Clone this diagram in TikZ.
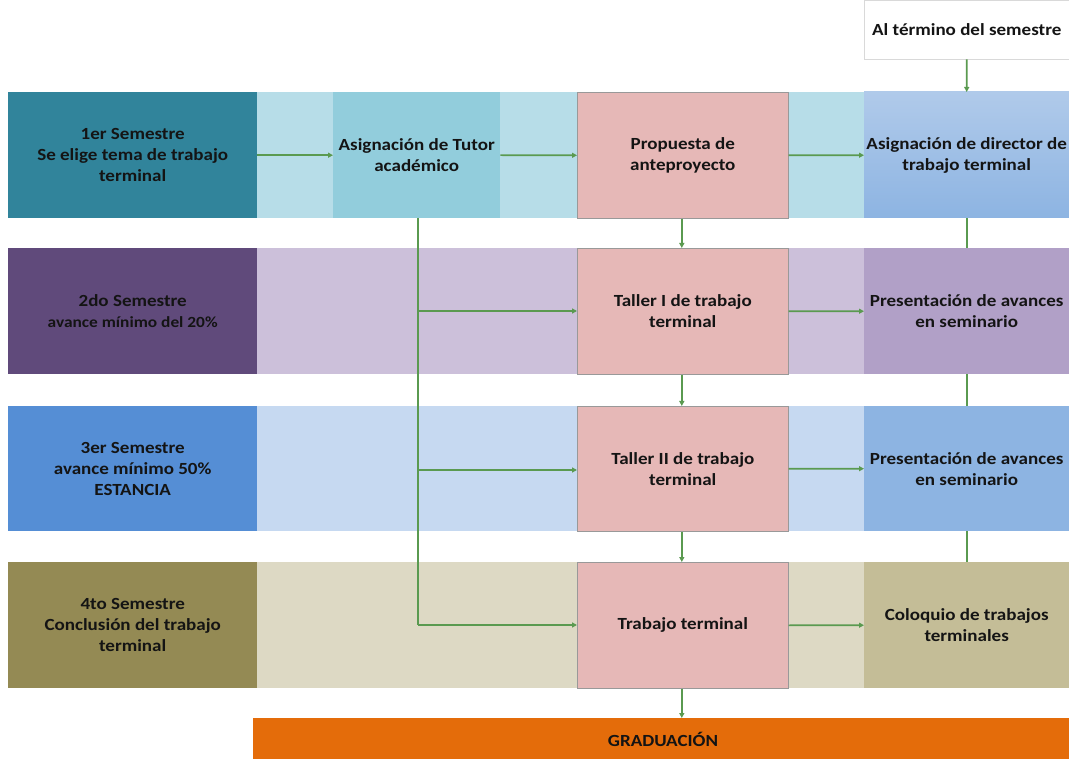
\documentclass[tikz,border=0pt]{standalone}
\usepackage{fontspec}
\setmainfont{Carlito}[FakeStretch=1.12]
\usetikzlibrary{arrows.meta}
\definecolor{cA}{HTML}{31849B}\definecolor{lA}{HTML}{B7DDE8}
\definecolor{cB}{HTML}{604A7B}\definecolor{lB}{HTML}{CCC0DA}
\definecolor{cC}{HTML}{558ED5}\definecolor{lC}{HTML}{C6D9F1}
\definecolor{cD}{HTML}{948A54}\definecolor{lD}{HTML}{DDD9C4}
\definecolor{tut}{HTML}{92CDDC}\definecolor{pink}{HTML}{E6B8B7}
\definecolor{dirT}{HTML}{B0CAEA}\definecolor{dirB}{HTML}{8DB4E2}
\definecolor{presB}{HTML}{B1A0C7}\definecolor{presC}{HTML}{8DB4E2}
\definecolor{colD}{HTML}{C4BD97}\definecolor{grad}{HTML}{E46C0A}
\definecolor{arr}{HTML}{5A9A50}\definecolor{txt}{HTML}{141414}
\tikzset{
  box/.style={anchor=north west,inner sep=0pt,align=center,font=\bfseries\fontsize{17}{21}\selectfont,text=txt},
  pinkbox/.style={box,fill=pink,draw=gray!80,line width=0.6pt},
  lane/.style={anchor=north west,inner sep=0pt},
  con/.style={draw=arr,line width=1.6pt,-{Triangle[length=5pt,width=5pt]}},
  lin/.style={draw=arr,line width=1.6pt}
}
\begin{document}
\begin{tikzpicture}[x=1pt,y=-1pt]
\useasboundingbox (0,0) rectangle (1069,759);
% lanes
\node[lane,fill=lA,minimum width=812pt,minimum height=126pt] (laneA) at (257,92) {};
\node[lane,fill=lB,minimum width=812pt,minimum height=126pt] (laneB) at (257,248) {};
\node[lane,fill=lC,minimum width=812pt,minimum height=125pt] (laneC) at (257,406) {};
\node[lane,fill=lD,minimum width=812pt,minimum height=126pt] (laneD) at (257,562) {};
% left semester boxes
\node[box,fill=cA,minimum width=249pt,minimum height=126pt] (s1) at (8,92) {1er Semestre\\Se elige tema de trabajo\\terminal};
\node[box,fill=cB,minimum width=249pt,minimum height=126pt] (s2) at (8,248) {2do Semestre\\{\fontsize{15.5}{21}\selectfont avance mínimo del 20\%}};
\node[box,fill=cC,minimum width=249pt,minimum height=125pt] (s3) at (8,406) {3er Semestre\\avance mínimo 50\%\\ESTANCIA};
\node[box,fill=cD,minimum width=249pt,minimum height=126pt] (s4) at (8,562) {4to Semestre\\Conclusión del trabajo\\terminal};
% tutor
\node[box,fill=tut,minimum width=167pt,minimum height=126pt] (tut) at (333,92) {Asignación de Tutor\\académico};
% pink column
\node[pinkbox,minimum width=211pt,minimum height=126pt] (p1) at (577,92) {Propuesta de\\anteproyecto};
\node[pinkbox,minimum width=211pt,minimum height=126pt] (p2) at (577,248) {Taller I de trabajo\\terminal};
\node[pinkbox,minimum width=211pt,minimum height=125pt] (p3) at (577,406) {Taller II de trabajo\\terminal};
\node[pinkbox,minimum width=211pt,minimum height=126pt] (p4) at (577,562) {Trabajo terminal};
% right column
\shade[top color=dirT,bottom color=dirB] (864,92) rectangle (1069,218);
\node[box,minimum width=205pt,minimum height=126pt] (r1) at (864,92) {Asignación de director de\\trabajo terminal};
\node[box,fill=presB,minimum width=205pt,minimum height=126pt] (r2) at (864,248) {Presentación de avances\\en seminario};
\node[box,fill=presC,minimum width=205pt,minimum height=125pt] (r3) at (864,406) {Presentación de avances\\en seminario};
\node[box,fill=colD,minimum width=205pt,minimum height=126pt] (r4) at (864,562) {Coloquio de trabajos\\terminales};
% top note
\node[box,fill=white,draw=gray!30,line width=0.5pt,minimum width=205pt,minimum height=59pt] (top) at (864,0) {Al término del semestre};
% graduation
\node[box,fill=grad,minimum width=816pt,minimum height=41pt] (grad) at (253,718) {};
\node[font=\bfseries\fontsize{17}{21}\selectfont,text=txt] (gtxt) at (663,739) {GRADUACIÓN};
% connectors row 1
\draw[con] (s1.east) -- (tut.west);
\draw[con] (tut.east) -- (p1.west);
\draw[con] (p1.east) -- (r1.west);
\draw[con] (top.south) -- (r1.north);
% tutor trunk
\coordinate (t1) at (418,218);
\coordinate (b2) at (418,311);
\coordinate (b3) at (418,470);
\coordinate (b4) at (418,625);
\draw[lin] (t1) -- (b4);
\draw[con] (b2) -- (b2 -| p2.west);
\draw[con] (b3) -- (b3 -| p3.west);
\draw[con] (b4) -- (b4 -| p4.west);
% pink column down
\draw[con] ([xshift=-1pt]p1.south) -- ([xshift=-1pt]p2.north);
\draw[con] ([xshift=-1pt]p2.south) -- ([xshift=-1pt]p3.north);
\draw[con] ([xshift=-1pt]p3.south) -- ([xshift=-1pt]p4.north);
\draw[con] ([xshift=-1pt]p4.south) -- ([xshift=-1pt]p4.south |- grad.north);
% across
\draw[con] (p2.east) -- (r2.west);
\draw[con] (p3.east) -- (r3.west);
\draw[con] (p4.east) -- (r4.west);
% right column lines
\draw[lin] (r1.south) -- (r2.north);
\draw[lin] (r2.south) -- (r3.north);
\draw[lin] (r3.south) -- (r4.north);
\end{tikzpicture}
\end{document}
